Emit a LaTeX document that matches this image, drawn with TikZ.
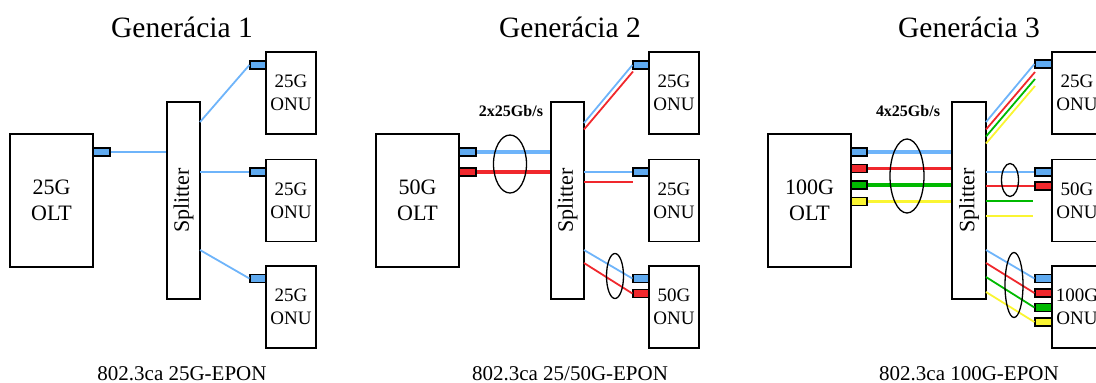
\documentclass[tikz,border=0pt]{standalone}
\usepackage{fontspec}
\setmainfont{Liberation Serif}
\usetikzlibrary{shapes.geometric}
\definecolor{portblue}{RGB}{95,170,240}
\definecolor{lineblue}{RGB}{110,180,250}
\definecolor{fred}{RGB}{240,40,45}
\definecolor{fgreen}{RGB}{0,185,0}
\definecolor{fyellow}{RGB}{250,245,50}
\begin{document}
\begin{tikzpicture}[x=1pt,y=-1pt,
  box/.style={draw=black, line width=1.3pt, fill=white, inner sep=0pt, align=center},
  oltbox/.style={box, minimum width=83pt, minimum height=133pt, font=\fontsize{22}{26}\selectfont},
  onubox/.style={box, minimum width=50pt, minimum height=82pt, font=\fontsize{19}{23}\selectfont},
  splbox/.style={box, minimum width=33pt, minimum height=197pt},
  spltext/.style={rotate=90, inner sep=0pt, font=\fontsize{22}{26}\selectfont},
  port/.style={draw=black, line width=1.2pt, inner sep=0pt, minimum width=16pt, minimum height=8pt},
  pB/.style={port, fill=portblue},
  pR/.style={port, fill=fred},
  pG/.style={port, fill=fgreen},
  pY/.style={port, fill=fyellow},
  fB/.style={draw=lineblue, line width=1.8pt},
  fR/.style={draw=fred, line width=1.8pt},
  fG/.style={draw=fgreen, line width=1.8pt},
  fY/.style={draw=fyellow, line width=1.8pt},
  thickf/.style={line width=3.3pt},
  bund/.style={draw=black, line width=1.3pt, ellipse, inner sep=0pt},
  title/.style={anchor=base, inner sep=0pt, font=\fontsize{29.5}{33}\selectfont},
  caption/.style={anchor=base, inner sep=0pt, font=\fontsize{21}{25}\selectfont},
  rate/.style={inner sep=0pt, font=\fontsize{16}{19}\selectfont\bfseries}
]
\useasboundingbox (0,0) rectangle (1096,383);
\clip (0,0) rectangle (1096,383);

% ---------------- Generation 1 ----------------
\node[title] (t1) at (182,37) {Generácia 1};
\node[caption] (c1) at (182,380) {802.3ca 25G-EPON};
\node[oltbox] (olt1) at (51.5,200.5) {25G\\OLT};
\node[pB, minimum width=17pt] (olt1b) at (101.5,152) {};
\node[splbox] (s1) at (183.5,200.5) {};
\node[spltext] (s1t) at (s1) {Splitter};
\node[onubox] (o1a) at (291,93) {25G\\ONU};
\node[onubox] (o1b) at (291,200.5) {25G\\ONU};
\node[onubox] (o1c) at (291,307) {25G\\ONU};
\node[pB] (o1ab) at (258,65) {};
\node[pB] (o1bb) at (258,172) {};
\node[pB] (o1cb) at (258,278.5) {};
\coordinate (s1a) at (200,122);
\coordinate (s1b) at (200,172);
\coordinate (s1c) at (200,250);
\draw[fB] (olt1b.east) -- (olt1b.east -| s1.west);
\draw[fB] (s1a) -- (o1ab.west);
\draw[fB] (s1b) -- (o1bb.west);
\draw[fB] (s1c) -- (o1cb.west);

% ---------------- Generation 2 ----------------
\node[title] (t2) at (570,37) {Generácia 2};
\node[caption] (c2) at (570,380) {802.3ca 25/50G-EPON};
\node[oltbox] (olt2) at (417.5,200.5) {50G\\OLT};
\node[pB, minimum width=17pt] (olt2b) at (467.5,152) {};
\node[pR, minimum width=17pt] (olt2r) at (467.5,172) {};
\node[splbox] (s2) at (567.5,200.5) {};
\node[spltext] (s2t) at (s2) {Splitter};
\draw[fB, thickf] (olt2b.east) -- (olt2b.east -| s2.west);
\draw[fR, thickf] (olt2r.east) -- (olt2r.east -| s2.west);
\node[bund, minimum width=33pt, minimum height=58pt] (e2) at (510,164) {};
\node[rate] (r2) at (511,111) {2x25Gb/s};
\node[onubox] (o2a) at (674,93) {25G\\ONU};
\node[onubox] (o2b) at (674,200.5) {25G\\ONU};
\node[onubox] (o2c) at (674,307) {50G\\ONU};
\node[pB] (o2ab) at (641,65) {};
\node[pB] (o2bb) at (641,172) {};
\node[pB] (o2cb) at (641,278.5) {};
\node[pR] (o2cr) at (641,293.5) {};
\coordinate (s2ab) at (584,123);
\coordinate (s2ar) at (584,129.5);
\coordinate (e2ar) at (633,71.5);
\coordinate (s2bb) at (584,172);
\coordinate (s2br) at (584,182);
\coordinate (e2br) at (633,182);
\coordinate (s2cb) at (584,250);
\coordinate (s2cr) at (584,263);
\draw[fB] (s2ab) -- (o2ab.west);
\draw[fR] (s2ar) -- (e2ar);
\draw[fB] (s2bb) -- (o2bb.west);
\draw[fR] (s2br) -- (e2br);
\draw[fB] (s2cb) -- (o2cb.west);
\draw[fR] (s2cr) -- (o2cr.west);
\node[bund, minimum width=17pt, minimum height=45pt] (e2c) at (615,276) {};

% ---------------- Generation 3 ----------------
\node[title] (t3) at (969,37) {Generácia 3};
\node[caption] (c3) at (969,380) {802.3ca 100G-EPON};
\node[oltbox] (olt3) at (809.5,200.5) {100G\\OLT};
\node[pB] (olt3b) at (859,152) {};
\node[pR] (olt3r) at (859,168.5) {};
\node[pG] (olt3g) at (859,185) {};
\node[pY] (olt3y) at (859,201.5) {};
\node[splbox, minimum width=34pt] (s3) at (969,200.5) {};
\node[spltext] (s3t) at (s3) {Splitter};
\draw[fB, thickf] (olt3b.east) -- (olt3b.east -| s3.west);
\draw[fR, thickf] (olt3r.east) -- (olt3r.east -| s3.west);
\draw[fG, thickf] (olt3g.east) -- (olt3g.east -| s3.west);
\draw[fY, thickf] (olt3y.east) -- (olt3y.east -| s3.west);
\node[bund, minimum width=34pt, minimum height=74pt] (e3) at (907,176) {};
\node[rate] (r3) at (908,111) {4x25Gb/s};
\node[onubox] (o3a) at (1077,93) {25G\\ONU};
\node[onubox] (o3b) at (1077,200.5) {50G\\ONU};
\node[onubox] (o3c) at (1077,307) {100G\\ONU};
\node[pB, minimum width=17pt] (o3ab) at (1043.5,64) {};
\node[pB, minimum width=17pt] (o3bb) at (1043.5,172) {};
\node[pR, minimum width=17pt] (o3br) at (1043.5,186) {};
\node[pB, minimum width=17pt] (o3cb) at (1043.5,278.5) {};
\node[pR, minimum width=17pt] (o3cr) at (1043.5,293) {};
\node[pG, minimum width=17pt] (o3cg) at (1043.5,307.5) {};
\node[pY, minimum width=17pt] (o3cy) at (1043.5,322) {};
% to 25G ONU
\coordinate (s3ab) at (986,122);
\coordinate (s3ar) at (986,129.5);
\coordinate (s3ag) at (986,136.5);
\coordinate (s3ay) at (986,143.5);
\coordinate (e3ar) at (1035,72);
\coordinate (e3ag) at (1035,79);
\coordinate (e3ay) at (1035,86);
\draw[fB] (s3ab) -- (o3ab.west);
\draw[fR] (s3ar) -- (e3ar);
\draw[fG] (s3ag) -- (e3ag);
\draw[fY] (s3ay) -- (e3ay);
% to 50G ONU
\coordinate (s3bb) at (986,172);
\coordinate (s3br) at (986,186);
\coordinate (s3bg) at (986,201);
\coordinate (s3by) at (986,216);
\coordinate (e3bg) at (1033,201);
\coordinate (e3by) at (1033,216);
\draw[fB] (s3bb) -- (o3bb.west);
\draw[fR] (s3br) -- (o3br.west);
\draw[fG] (s3bg) -- (e3bg);
\draw[fY] (s3by) -- (e3by);
\node[bund, minimum width=17pt, minimum height=33pt] (e3b) at (1010,180) {};
% to 100G ONU
\coordinate (s3cb) at (986,250);
\coordinate (s3cr) at (986,263);
\coordinate (s3cg) at (986,277);
\coordinate (s3cy) at (986,292);
\draw[fB] (s3cb) -- (o3cb.west);
\draw[fR] (s3cr) -- (o3cr.west);
\draw[fG] (s3cg) -- (o3cg.west);
\draw[fY] (s3cy) -- (o3cy.west);
\node[bund, minimum width=18pt, minimum height=65pt] (e3c) at (1014,285) {};
\end{tikzpicture}
\end{document}
